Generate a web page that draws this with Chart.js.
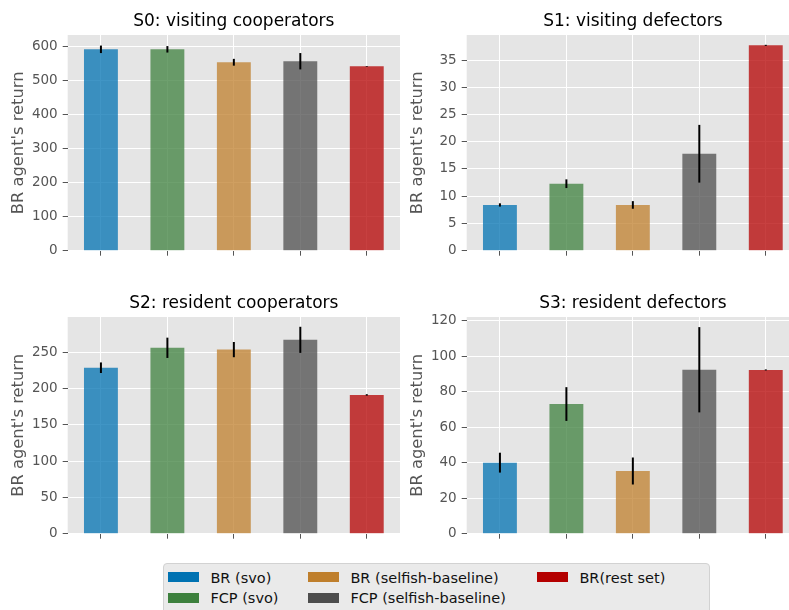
<!DOCTYPE html>
<html>
<head>
<meta charset="utf-8">
<script src="https://cdn.jsdelivr.net/npm/chart.js@4"></script>
<style>
  html, body { margin: 0; padding: 0; width: 789px; height: 610px; overflow: hidden; background: #fff; }
  body { position: relative; font-family: "DejaVu Sans", sans-serif; }
  canvas { position: absolute; }
  #leyenda {
    position: absolute; left: 163px; top: 563px; width: 547px; height: 60px;
    box-sizing: border-box; background: #eaeaea; border: 1px solid #d2d2d2; border-radius: 4px;
  }
  .parche { position: absolute; width: 31px; height: 10px; }
  .etiqueta { position: absolute; font-size: 14.5px; line-height: 20px; color: #111; white-space: nowrap; }
</style>
</head>
<body>
<canvas id="s0" width="400" height="280" style="left:0px;top:0px"></canvas>
<canvas id="s1" width="400" height="280" style="left:399px;top:0px"></canvas>
<canvas id="s2" width="400" height="281" style="left:0px;top:282px"></canvas>
<canvas id="s3" width="400" height="281" style="left:399px;top:282px"></canvas>
<div id="leyenda"></div>

<script>
// Datos: categorías, medias y errores de cada escenario
const categorias = ["BR (svo)", "FCP (svo)", "BR (selfish-baseline)", "FCP (selfish-baseline)", "BR(rest set)"];
const titulos = ["S0: visiting cooperators", "S1: visiting defectors", "S2: resident cooperators", "S3: resident defectors"];

const s0Medias = [591, 591, 553, 556, 541];
const s0Errores = [11, 9.5, 10, 24, 1];
const s1Medias = [8.4, 12.3, 8.4, 17.8, 37.7];
const s1Errores = [0.3, 0.8, 0.7, 5.3, 0.1];
const s2Medias = [229, 256.5, 254, 267.5, 191.5];
const s2Errores = [7.3, 14, 10.5, 18, 1];
const s3Medias = [40, 73, 35.3, 92.3, 92.2];
const s3Errores = [5.6, 9.5, 7.6, 24, 0.3];

// ticks y límite superior del eje y
const s0Ticks = [0, 100, 200, 300, 400, 500, 600];
const s1Ticks = [0, 5, 10, 15, 20, 25, 30, 35];
const s2Ticks = [0, 50, 100, 150, 200, 250];
const s3Ticks = [0, 20, 40, 60, 80, 100, 120];
const yMaximos = [633, 39.6, 299, 122];

const colores = ["#0072b2", "#3d803d", "#bf7f2c", "#4d4d4d", "#b40000"];
const coloresBarra = colores.map(c => c + "bf"); // alpha 0.75

Chart.defaults.font.family = "'DejaVu Sans', sans-serif";

// fondo gris del área de dibujo
const fondo = {
  id: "fondo",
  beforeDraw(chart) {
    const { ctx, chartArea: a } = chart;
    ctx.save();
    ctx.fillStyle = "#e5e5e5";
    ctx.fillRect(a.left, a.top, a.right - a.left, a.bottom - a.top);
    ctx.restore();
  }
};

// barras de error verticales
const barrasError = {
  id: "barrasError",
  afterDatasetsDraw(chart) {
    const ctx = chart.ctx;
    const ds = chart.data.datasets[0];
    const meta = chart.getDatasetMeta(0);
    const y = chart.scales.y;
    ctx.save();
    ctx.strokeStyle = "#000";
    ctx.lineWidth = 2;
    meta.data.forEach((barra, i) => {
      const v = ds.data[i], e = ds.errores[i];
      ctx.beginPath();
      ctx.moveTo(barra.x, y.getPixelForValue(v + e));
      ctx.lineTo(barra.x, y.getPixelForValue(v - e));
      ctx.stroke();
    });
    ctx.restore();
  }
};

function crearGrafico(id, titulo, medias, errores, yMax, ticksY) {
  const ctx = document.getElementById(id).getContext("2d");
  return new Chart(ctx, {
    type: "bar",
    data: {
      labels: categorias,
      datasets: [{
        data: medias,
        errores: errores,
        backgroundColor: coloresBarra,
        borderWidth: 0,
        barPercentage: 0.51,
        categoryPercentage: 1
      }]
    },
    options: {
      responsive: false,
      animation: false,
      layout: { padding: 0 },
      plugins: {
        legend: { display: false },
        tooltip: { enabled: false },
        title: {
          display: true,
          fullSize: false,
          text: titulo,
          color: "#000",
          font: { size: 17, weight: "normal" },
          padding: { top: 11, bottom: 3.6 }
        }
      },
      scales: {
        x: {
          grid: { color: "#fff", lineWidth: 1, offset: false, tickColor: "#555", tickLength: 5 },
          border: { display: false },
          ticks: { callback: () => "" },
          afterFit: s => { s.height = 29.3; }
        },
        y: {
          min: 0,
          max: yMax,
          grid: { color: "#fff", lineWidth: 1, tickColor: "#555", tickLength: 5 },
          border: { display: false },
          ticks: { color: "#555", font: { size: 13.5 }, padding: 5 },
          afterBuildTicks: s => { s.ticks = ticksY.map(v => ({ value: v })); },
          title: {
            display: true,
            text: "BR agent's return",
            color: "#555",
            font: { size: 16.3 },
            padding: { top: 8.5, bottom: 0 }
          },
          afterFit: s => { s.width = 67.7; }
        }
      }
    },
    plugins: [fondo, barrasError]
  });
}

function crearLeyenda() {
  const cont = document.getElementById("leyenda");
  const columnas = [4, 144, 373];
  const filas = [8, 28.5];
  categorias.forEach((nombre, i) => {
    const col = Math.floor(i / 2), fila = i % 2;
    const parche = document.createElement("div");
    parche.className = "parche";
    parche.style.left = columnas[col] + "px";
    parche.style.top = filas[fila] + "px";
    parche.style.background = colores[i];
    cont.appendChild(parche);

    const txt = document.createElement("div");
    txt.className = "etiqueta";
    txt.style.left = (columnas[col] + 42.4) + "px";
    txt.style.top = (filas[fila] - 4.4) + "px";
    txt.textContent = nombre;
    cont.appendChild(txt);
  });
}

crearGrafico("s0", titulos[0], s0Medias, s0Errores, yMaximos[0], s0Ticks);
crearGrafico("s1", titulos[1], s1Medias, s1Errores, yMaximos[1], s1Ticks);
crearGrafico("s2", titulos[2], s2Medias, s2Errores, yMaximos[2], s2Ticks);
crearGrafico("s3", titulos[3], s3Medias, s3Errores, yMaximos[3], s3Ticks);
crearLeyenda();
</script>
</body>
</html>
